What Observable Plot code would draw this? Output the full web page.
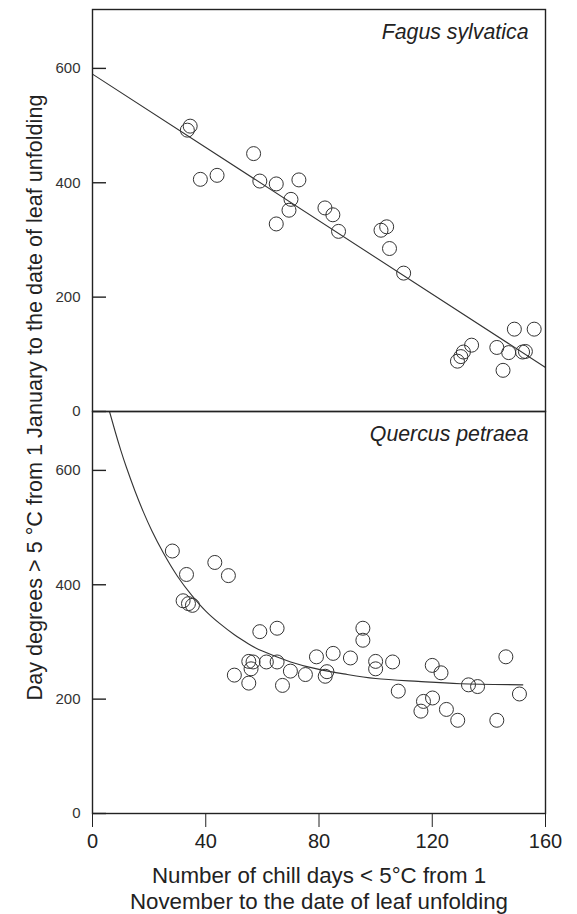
<!DOCTYPE html>
<html>
<head>
<meta charset="utf-8">
<script src="https://cdn.jsdelivr.net/npm/d3@7"></script>
<script src="https://cdn.jsdelivr.net/npm/@observablehq/plot@0.6"></script>
<style>
  html, body { margin: 0; padding: 0; background: white; }
</style>
</head>
<body>
<div id="chart"></div>
<script>
// Species panels
const species = ["Fagus sylvatica", "Quercus petraea"];

// Fagus sylvatica observations (chill days, day degrees)
const fagusX = [33.5, 34.5, 56.9, 38.1, 44.0, 59.1, 64.9, 72.9, 70.1, 69.4, 64.9, 82.1, 84.9, 86.9, 101.9, 103.9, 104.9, 109.9, 149, 156, 133.9, 131, 130.1, 128.9, 142.8, 147, 151.9, 152.9, 145];
const fagusY = [492, 499, 451, 406, 413, 403, 398, 405, 371, 352, 328, 356, 344, 315, 317, 323, 285, 242, 144, 144, 116, 104, 96, 88, 112, 103, 104, 105, 72];

// Fagus fitted straight line (end points)
const fagusFitX = [0, 160];
const fagusFitY = [590, 77];

// Quercus petraea observations
const quercusX = [28.2, 33.2, 43.2, 48, 32, 33.9, 35.3, 59.1, 65.2, 95.5, 95.5, 55.2, 56.7, 56, 61.4, 65.2, 50.1, 55.2, 67.1, 69.9, 75.2, 79.1, 85, 91.1, 82.8, 82.2, 100, 100, 106, 108, 120, 123.1, 116.9, 120.1, 116, 125, 129, 132.8, 136, 142.8, 146, 150.8];
const quercusY = [459, 418, 439, 416, 372, 367, 364, 318, 324, 324, 303, 266, 265, 253, 265, 265, 242, 228, 224, 249, 243, 274, 280, 272, 248, 240, 266, 253, 265, 214, 259, 246, 196, 202, 179, 182, 163, 225, 222, 163, 274, 209];

// Quercus fitted curve
const quercusFitX = [6, 8, 10, 12, 15, 18, 21, 25, 30, 35, 40, 45, 50, 55, 60, 70, 80, 90, 100, 115, 130, 152];
const quercusFitY = [703, 668, 635, 605, 564, 527, 494, 456, 415, 382, 354, 332, 313, 297, 284, 265, 252, 243, 236, 231, 227, 225];

// Axis ticks
const xTicks = [0, 40, 80, 120, 160];
const yTicks = [0, 200, 400, 600];

// Labels
const xTitle = "Number of chill days < 5\u00B0C from 1\nNovember to the date of leaf unfolding";
const yTitle = "Day degrees > 5 \u00B0C from 1 January to the date of leaf unfolding";

// Build tables
const points = [
  ...fagusX.map((x, i) => ({sp: species[0], x, y: fagusY[i]})),
  ...quercusX.map((x, i) => ({sp: species[1], x, y: quercusY[i]}))
];
const fits = [
  ...fagusFitX.map((x, i) => ({sp: species[0], x, y: fagusFitY[i]})),
  ...quercusFitX.map((x, i) => ({sp: species[1], x, y: quercusFitY[i]}))
];
const labels = species.map(sp => ({sp}));
const tickLen = 14 * 160 / 453; // inward tick length in x units
const tickRules = species.flatMap(sp => yTicks.map(v => ({sp, y: v, x1: 0, x2: tickLen})));

const ink = "#222";

const chart = Plot.plot({
  width: 577,
  height: 914,
  marginLeft: 92,
  marginRight: 32,
  marginTop: 8,
  marginBottom: 101,
  style: {fontFamily: "'Liberation Sans', Arial, sans-serif", background: "white", color: ink},
  x: {domain: [0, 160]},
  y: {domain: [0, 703]},
  fy: {domain: species, padding: 0, axis: null},
  marks: [
    Plot.line(fits, {x: "x", y: "y", fy: "sp", z: "sp", curve: "natural", stroke: "#333", strokeWidth: 1.1}),
    Plot.dot(points, {x: "x", y: "y", fy: "sp", r: 7, stroke: "#333", strokeWidth: 1, fill: "none"}),
    Plot.frame({stroke: ink, strokeWidth: 1.4}),
    Plot.ruleY(tickRules, {fy: "sp", y: "y", x1: "x1", x2: "x2", stroke: ink, strokeWidth: 1.4}),
    Plot.axisY({ticks: yTicks, tickSize: 0, tickPadding: 12, fontSize: 15, fill: "#333", label: null}),
    Plot.axisX({ticks: xTicks, tickSize: 14, tickPadding: 6, fontSize: 20, stroke: ink, fill: ink, label: null}),
    Plot.text(labels, {fy: "sp", text: "sp", frameAnchor: "top-right", dx: -17, dy: 14, lineAnchor: "top", textAnchor: "end", fontSize: 21.3, fontStyle: "italic", fill: ink}),
    Plot.text([{sp: species[1]}], {fy: "sp", text: () => xTitle, frameAnchor: "bottom", dy: 52, lineAnchor: "top", textAnchor: "middle", fontSize: 22.3, lineHeight: 1.13, fill: ink}),
    Plot.text([{sp: species[0]}], {fy: "sp", text: () => yTitle, frameAnchor: "bottom-left", dx: -57, dy: -14, rotate: -90, textAnchor: "middle", lineAnchor: "middle", fontSize: 21.6, fill: ink})
  ]
});
document.getElementById("chart").appendChild(chart);
</script>
</body>
</html>
